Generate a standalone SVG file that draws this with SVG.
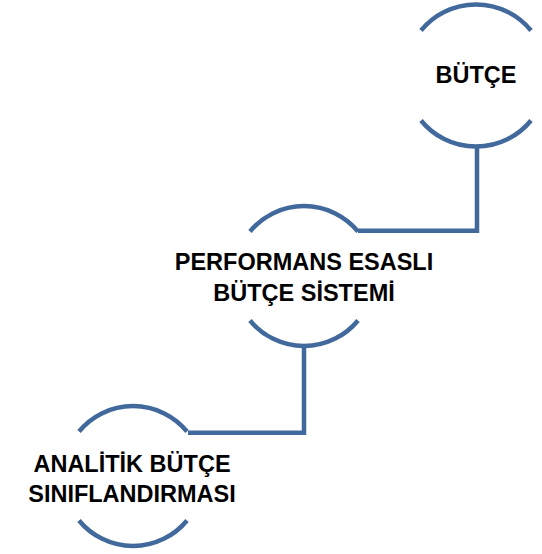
<svg xmlns="http://www.w3.org/2000/svg" width="542" height="554" viewBox="0 0 542 554">
<style>
.arc{fill:none;stroke:#41699B;stroke-width:4.5}
.con{fill:none;stroke:#41699B;stroke-width:4.5;stroke-linejoin:miter}
.t{font-family:"Liberation Sans",Arial,sans-serif;font-weight:bold;font-size:23.5px;fill:#000;text-anchor:middle}
</style>
<rect width="542" height="554" fill="#fff"/>
<g id="connectors">
<path class="con" d="M477,147 V230.7 H358"/>
<path class="con" d="M304,346 V432.7 H188"/>
</g>
<g id="node-butce">
<path class="arc" d="M421,30.5 A71,71 0 0 1 531,30.5"/>
<path class="arc" d="M421,120.5 A71,71 0 0 0 531,120.5"/>
<text class="t" x="476" y="83">BÜTÇE</text>
</g>
<g id="node-performans">
<path class="arc" d="M250,231.5 A70,70 0 0 1 358,231.5"/>
<path class="arc" d="M250,320.5 A70,70 0 0 0 358,320.5"/>
<text class="t" x="304" y="270">PERFORMANS ESASLI</text>
<text class="t" x="304" y="301">BÜTÇE SİSTEMİ</text>
</g>
<g id="node-analitik">
<path class="arc" d="M79,431.5 A70,70 0 0 1 187,431.5"/>
<path class="arc" d="M79,520.5 A70,70 0 0 0 187,520.5"/>
<text class="t" x="132" y="471.5">ANALİTİK BÜTÇE</text>
<text class="t" x="132" y="501.5">SINIFLANDIRMASI</text>
</g>
</svg>
